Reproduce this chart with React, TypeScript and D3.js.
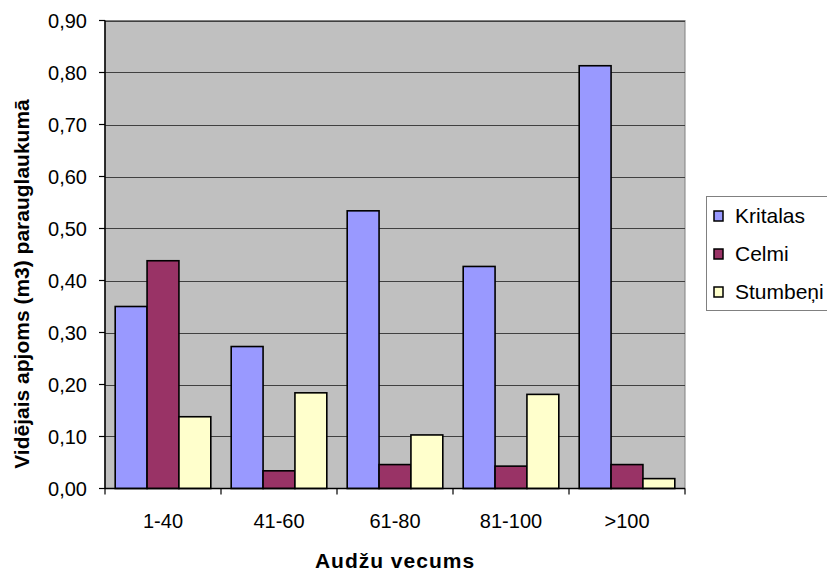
import React from "react";
import * as d3 from "d3";

// Age classes of the stands
const ageGroups = ["1-40", "41-60", "61-80", "81-100", ">100"];
// Mean volume (m3) per sample plot, per debris type
const kritalas = [0.35, 0.273, 0.534, 0.427, 0.813];
const celmi = [0.438, 0.034, 0.046, 0.043, 0.046];
const stumbeni = [0.138, 0.184, 0.103, 0.181, 0.019];
const seriesNames = ["Kritalas", "Celmi", "Stumbeņi"];
const seriesColors = ["#9999FF", "#993366", "#FFFFCC"];
const yTicks = [0, 0.1, 0.2, 0.3, 0.4, 0.5, 0.6, 0.7, 0.8, 0.9];

const W = 827;
const H = 571;
const plot = { left: 105, right: 685, top: 20.5, bottom: 488.5 };
const FONT = "'Liberation Sans', Arial, sans-serif";

export default function App() {
  const seriesValues = [kritalas, celmi, stumbeni];

  const x = d3
    .scaleBand<string>()
    .domain(ageGroups)
    .range([plot.left, plot.right])
    .paddingInner(0)
    .paddingOuter(0);

  const inner = d3
    .scaleBand<string>()
    .domain(seriesNames)
    .range([0, x.bandwidth()])
    .paddingInner(0)
    .paddingOuter(0.32);

  const y = d3.scaleLinear().domain([0, 0.9]).range([plot.bottom, plot.top]);
  const fmt = (v: number) => d3.format(".2f")(v).replace(".", ",");

  const boundaries = ageGroups.map((g) => x(g) as number).concat([plot.right]);

  return (
    <svg
      width={W}
      height={H}
      style={{ position: "absolute", left: 0, top: 0, background: "#fff" }}
      fontFamily={FONT}
    >
      {/* plot area */}
      <rect
        x={plot.left}
        y={plot.top}
        width={plot.right - plot.left}
        height={plot.bottom - plot.top}
        fill="#C0C0C0"
        stroke="#808080"
        strokeWidth={1}
      />
      {/* horizontal gridlines */}
      {yTicks.slice(1).map((t) => (
        <line
          key={"g" + t}
          x1={plot.left}
          x2={plot.right}
          y1={Math.round(y(t)) + 0.5}
          y2={Math.round(y(t)) + 0.5}
          stroke="#404040"
          strokeWidth={1}
        />
      ))}
      {/* bars */}
      {seriesValues.map((vals, si) =>
        vals.map((v, i) => {
          const bx = (x(ageGroups[i]) as number) + (inner(seriesNames[si]) as number);
          return (
            <rect
              key={si + "-" + i}
              x={bx}
              y={y(v)}
              width={inner.bandwidth()}
              height={y(0) - y(v)}
              fill={seriesColors[si]}
              stroke="#000"
              strokeWidth={1.6}
            />
          );
        })
      )}
      {/* y axis */}
      <line x1={plot.left} x2={plot.left} y1={plot.top} y2={plot.bottom} stroke="#000" strokeWidth={1.5} />
      {yTicks.map((t) => (
        <g key={"y" + t}>
          <line x1={plot.left - 6} x2={plot.left} y1={y(t)} y2={y(t)} stroke="#000" strokeWidth={1.2} />
          <text x={87} y={y(t)} dy="0.35em" textAnchor="end" fontSize={20} fill="#000">
            {fmt(t)}
          </text>
        </g>
      ))}
      {/* x axis */}
      <line x1={plot.left} x2={plot.right} y1={plot.bottom} y2={plot.bottom} stroke="#000" strokeWidth={1.5} />
      {boundaries.map((bx, i) => (
        <line key={"xt" + i} x1={bx} x2={bx} y1={plot.bottom} y2={plot.bottom + 6} stroke="#000" strokeWidth={1.2} />
      ))}
      {ageGroups.map((g) => (
        <text
          key={"xl" + g}
          x={(x(g) as number) + x.bandwidth() / 2}
          y={521}
          dy="0.35em"
          textAnchor="middle"
          fontSize={20}
          fill="#000"
        >
          {g}
        </text>
      ))}
      {/* axis titles */}
      <text
        x={(plot.left + plot.right) / 2}
        y={561}
        dy="0.35em"
        textAnchor="middle"
        fontSize={21}
        fontWeight="bold"
        letterSpacing={1}
        fill="#000"
      >
        Audžu vecums
      </text>
      <text
        transform="translate(22,284) rotate(-90)"
        dy="0.35em"
        textAnchor="middle"
        fontSize={21}
        fontWeight="bold"
        fill="#000"
      >
        Vidējais apjoms (m3) parauglaukumā
      </text>
      {/* legend */}
      <rect x={706.5} y={196.5} width={130} height={114} fill="#fff" stroke="#808080" strokeWidth={1} />
      {seriesNames.map((n, i) => {
        const cy = 216 + i * 38;
        return (
          <g key={"lg" + n}>
            <rect x={714} y={cy - 5} width={9} height={10} fill={seriesColors[i]} stroke="#000" strokeWidth={1.5} />
            <text x={735} y={cy} dy="0.35em" fontSize={21} fill="#000">
              {n}
            </text>
          </g>
        );
      })}
    </svg>
  );
}
